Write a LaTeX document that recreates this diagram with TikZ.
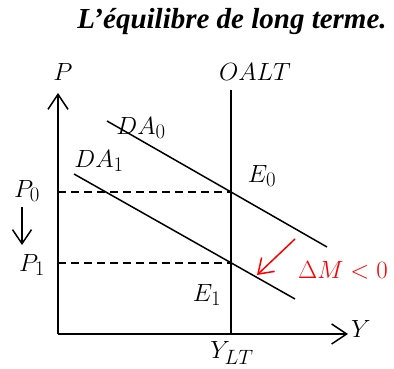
\documentclass[tikz,border=0pt]{standalone}
\usepackage{fontspec}
\setmainfont{Liberation Serif}
\usetikzlibrary{arrows.meta}
\tikzset{every node/.style={font=\Huge},line cap=round,line join=round,
  axis/.style={line width=1.5pt,-{Straight Barb[length=15pt,width=20pt]}},
  curve/.style={line width=1.5pt},
  guide/.style={line width=1.4pt,line cap=butt,dash pattern=on 8pt off 5pt},
  movearrow/.style={line width=1.5pt,-{Straight Barb[length=14pt,width=19pt]}}}

\begin{document}
\begin{tikzpicture}[x=1pt,y=1pt]
  \path[use as bounding box] (0,0) rectangle (394,369);
  \node (title) at (232,347) {\fontsize{29}{34}\selectfont\bfseries\itshape L’équilibre de long terme.};
  % axes and long run supply
  \coordinate (O) at (58,35);
  \coordinate (ytop) at (58,276);
  \coordinate (xend) at (348,35);
  \coordinate (lttop) at (231,279);
  \coordinate (ltbot) at (231,35);
  \draw[axis] (O) -- (ytop);
  \draw[axis] (O) -- (xend);
  \draw[curve] (ltbot) -- (lttop);
  % demand curves
  \coordinate (da0a) at (107,248);
  \coordinate (da0b) at (327,122);
  \coordinate (da1a) at (74,195);
  \coordinate (da1b) at (295,70);
  \draw[curve] (da0a) -- (da0b);
  \draw[curve] (da1a) -- (da1b);
  % price levels
  \coordinate (E0pt) at (231,177);
  \coordinate (E1pt) at (231,106);
  \coordinate (p0ax) at (58,177);
  \coordinate (p1ax) at (58,106);
  \draw[guide] (p0ax) -- (E0pt);
  \draw[guide] (p1ax) -- (E1pt);
  % labels
  \node (P) at (63,297) {$P$};
  \node (Y) at (361,40) {$Y$};
  \node (oalt) at (255,297) {$OALT$};
  \node (da0) at (141,241) {$DA_0$};
  \node (da1) at (99,208) {$DA_1$};
  \node (E0) at (262,193) {$E_0$};
  \node (E1) at (207,74) {$E_1$};
  \node (P0) at (27,178) {$P_0$};
  \node (P1) at (32,104) {$P_1$};
  \node (ylt) at (232,16) {$Y_{LT}$};
  \node[red] (dM) at (343,99) {$\Delta M<0$};
  % shifts
  \coordinate (pdownA) at (22,162);
  \coordinate (pdownB) at (22,124);
  \draw[movearrow] (pdownA) -- (pdownB);
  \coordinate (mA) at (295,130);
  \coordinate (mB) at (257,94);
  \draw[movearrow,red] (mA) -- (mB);
\end{tikzpicture}
\end{document}
